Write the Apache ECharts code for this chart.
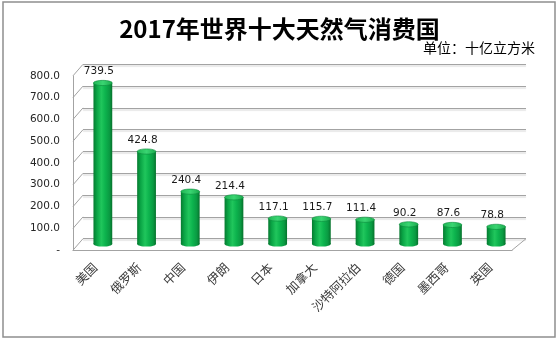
<!DOCTYPE html>
<html>
<head>
<meta charset="utf-8">
<script src="https://cdn.jsdelivr.net/npm/echarts@6/dist/echarts.min.js"></script>
<style>html,body{margin:0;padding:0;background:#fff;}#c{width:559px;height:342px;}</style>
</head>
<body>
<div id="c"></div>
<script>
const titleText = '2017年世界十大天然气消费国';
const unitText = '单位：十亿立方米';
const categories = ['美国','俄罗斯','中国','伊朗','日本','加拿大','沙特阿拉伯','德国','墨西哥','英国'];
const values = [739.5, 424.8, 240.4, 214.4, 117.1, 115.7, 111.4, 90.2, 87.6, 78.8];
const yTickValues = [0, 100, 200, 300, 400, 500, 600, 700, 800];
const yTickLabels = ['-', '100.0', '200.0', '300.0', '400.0', '500.0', '600.0', '700.0', '800.0'];
const yMin = 0, yMax = 800, yInterval = 100;

// 3D depth offsets (style)
const DX = -10, DY = 11.5, DX_RIGHT = -14;
const gridLineColor = '#a3a3a3';

const chart = echarts.init(document.getElementById('c'), null, {renderer: 'canvas'});

const bodyGrad = () => new echarts.graphic.LinearGradient(0, 0, 1, 0, [
  {offset: 0, color: '#067a30'},
  {offset: 0.18, color: '#0aa445'},
  {offset: 0.42, color: '#20c65c'},
  {offset: 0.62, color: '#0db44e'},
  {offset: 0.85, color: '#0a9a42'},
  {offset: 1, color: '#06722c'}
]);
const topGrad = () => new echarts.graphic.LinearGradient(0, 0, 1, 0, [
  {offset: 0, color: '#1fb553'},
  {offset: 0.5, color: '#3ad572'},
  {offset: 1, color: '#1aa94c'}
]);

const option = {
  backgroundColor: '#fff',
  animation: false,
  title: {
    text: titleText,
    left: 'center',
    top: 12,
    textStyle: {fontSize: 24, fontWeight: 'bold', fontFamily: 'Noto Sans CJK SC', color: '#000'}
  },
  graphic: [
    {type: 'rect', shape: {x: 3, y: 2, width: 552, height: 335}, style: {fill: 'none', stroke: '#8f8f8f', lineWidth: 1.5}, z: -10},
    {type: 'text', right: 24, top: 41, style: {text: unitText, fontSize: 14, fontFamily: 'Noto Sans CJK SC', fill: '#000'}}
  ],
  grid: [
    {left: 83, right: 33, top: 64.3, bottom: 103.3},
    {left: 81, right: 41, top: 69.8, bottom: 98},
    {left: 73, right: 47, top: 76, bottom: 92}
  ],
  xAxis: [
    {gridIndex: 0, type: 'value', min: 0, max: 1, show: false},
    {gridIndex: 1, type: 'category', data: categories, show: false},
    {gridIndex: 2, type: 'category', data: categories,
      axisLine: {show: true, lineStyle: {color: gridLineColor, width: 1}},
      axisTick: {show: false},
      axisLabel: {rotate: 45, interval: 0, margin: 15, fontSize: 12.5, fontFamily: 'Noto Sans CJK SC', color: '#3a3a3a'}}
  ],
  yAxis: [
    {gridIndex: 0, type: 'value', min: yMin, max: yMax, interval: yInterval,
      axisLine: {show: false}, axisTick: {show: false}, axisLabel: {show: false},
      splitLine: {show: true, lineStyle: {color: gridLineColor, width: 1, shadowColor: 'rgba(0,0,0,0.18)', shadowOffsetY: 1.5, shadowBlur: 1}}},
    {gridIndex: 1, type: 'value', min: yMin, max: yMax, interval: yInterval, show: false},
    {gridIndex: 2, type: 'value', min: yMin, max: yMax, interval: yInterval,
      axisLine: {show: true, lineStyle: {color: gridLineColor, width: 1}},
      axisTick: {show: false},
      splitLine: {show: false},
      axisLabel: {margin: 13, fontSize: 10.5, fontFamily: 'DejaVu Sans', color: '#262626',
        formatter: v => yTickLabels[Math.round((v - yMin) / yInterval)]}}
  ],
  series: [
    {
      type: 'custom', xAxisIndex: 0, yAxisIndex: 0, z: 1, silent: true,
      data: yTickValues.map(v => [0, v]),
      renderItem: (params, api) => {
        const p = api.coord([0, api.value(1)]);
        return {type: 'line', shape: {x1: p[0], y1: p[1], x2: p[0] + DX, y2: p[1] + DY},
          style: {stroke: gridLineColor, lineWidth: 1}};
      }
    },
    {
      type: 'custom', xAxisIndex: 0, yAxisIndex: 0, z: 1, silent: true,
      data: [[1, yMin]],
      renderItem: (params, api) => {
        const p = api.coord([api.value(0), api.value(1)]);
        return {type: 'line', shape: {x1: p[0], y1: p[1], x2: p[0] + DX_RIGHT, y2: p[1] + DY},
          style: {stroke: gridLineColor, lineWidth: 1}};
      }
    },
    {
      type: 'custom', xAxisIndex: 1, yAxisIndex: 1, z: 5, silent: true,
      data: values.map((v, i) => [i, v]),
      renderItem: (params, api) => {
        const idx = api.value(0), val = api.value(1);
        const top = api.coord([idx, val]);
        const base = api.coord([idx, 0]);
        const w = api.size([1, 0])[0] * 0.43;
        const cx = top[0], rx = w / 2, ry = 2.6;
        return {
          type: 'group',
          children: [
            {type: 'ellipse', shape: {cx: cx, cy: base[1], rx: rx, ry: ry}, style: {fill: bodyGrad()}},
            {type: 'rect', shape: {x: cx - rx, y: top[1], width: w, height: base[1] - top[1]}, style: {fill: bodyGrad()}},
            {type: 'ellipse', shape: {cx: cx, cy: top[1], rx: rx, ry: ry}, style: {fill: topGrad(), stroke: '#0c8a3c', lineWidth: 0.6}},
            {type: 'text', x: cx - 4, y: top[1] - 11.5,
              style: {text: val.toFixed(1), fontSize: 10.5, fontFamily: 'DejaVu Sans', fill: '#1a1a1a', align: 'center', verticalAlign: 'middle'}}
          ]
        };
      }
    }
  ]
};
chart.setOption(option);
</script>
</body>
</html>
